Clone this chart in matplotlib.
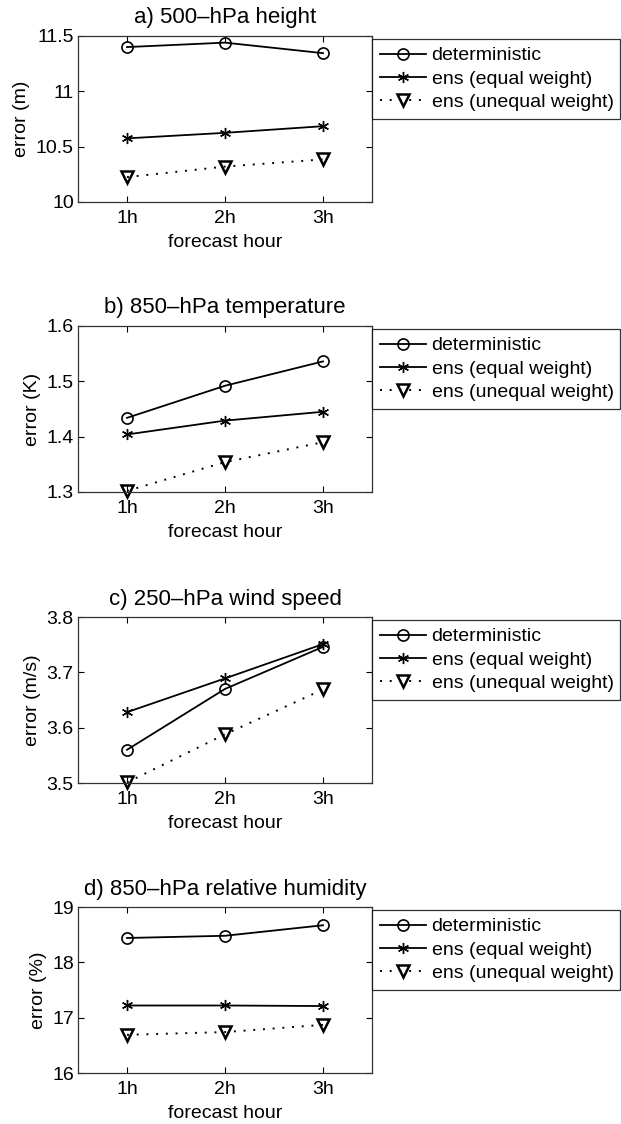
import matplotlib
matplotlib.use("Agg")
import matplotlib.pyplot as plt
from matplotlib.ticker import FormatStrFormatter

plt.rcParams['font.family'] = ['Liberation Sans', 'DejaVu Sans']

# horas de previsao
horas = [1, 2, 3]
rotulos_horas = ['1h', '2h', '3h']
legendas = ['deterministic', 'ens (equal weight)', 'ens (unequal weight)']

# a) 500-hPa height
det_a = [11.40, 11.44, 11.345]
eq_a = [10.575, 10.625, 10.685]
uneq_a = [10.225, 10.32, 10.385]

# b) 850-hPa temperature
det_b = [1.434, 1.492, 1.536]
eq_b = [1.404, 1.429, 1.445]
uneq_b = [1.302, 1.354, 1.390]

# c) 250-hPa wind speed
det_c = [3.560, 3.670, 3.746]
eq_c = [3.628, 3.689, 3.751]
uneq_c = [3.501, 3.588, 3.669]

# d) 850-hPa relative humidity
det_d = [18.44, 18.48, 18.67]
eq_d = [17.22, 17.22, 17.21]
uneq_d = [16.69, 16.74, 16.87]

titulos = ['a) 500\u2013hPa height', 'b) 850\u2013hPa temperature',
           'c) 250\u2013hPa wind speed', 'd) 850\u2013hPa relative humidity']
ylabels = ['error (m)', 'error (K)', 'error (m/s)', 'error (%)']
ylims = [(10, 11.5), (1.3, 1.6), (3.5, 3.8), (16, 19)]
yticks = [[10, 10.5, 11, 11.5], [1.3, 1.4, 1.5, 1.6], [3.5, 3.6, 3.7, 3.8], [16, 17, 18, 19]]

dados = [(det_a, eq_a, uneq_a), (det_b, eq_b, uneq_b),
         (det_c, eq_c, uneq_c), (det_d, eq_d, uneq_d)]

W, H = 621, 1124
fig = plt.figure(figsize=(W / 100, H / 100), dpi=100)

topos = [36, 326, 617, 907]   # topo de cada eixo em pixels
esq, larg, alt = 78, 294, 166
asterisco = (6, 2, 0)

for i in range(4):
    det, eq, uneq = dados[i]
    ax = fig.add_axes([esq / W, 1 - (topos[i] + alt) / H, larg / W, alt / H])

    ax.plot(horas, det, color='k', lw=1.3, marker='o', ms=8, mfc='none',
            mec='k', mew=1.2, clip_on=False, label=legendas[0])
    ax.plot(horas, eq, color='k', lw=1.3, marker=asterisco, ms=8,
            mec='k', mew=1.0, clip_on=False, label=legendas[1])
    ax.plot(horas, uneq, color='k', lw=1.4, ls=(0, (1, 4)), marker='v', ms=9,
            mfc='none', mec='k', mew=1.8, clip_on=False, label=legendas[2])

    ax.set_xlim(0.5, 3.5)
    ax.set_ylim(*ylims[i])
    ax.set_xticks(horas)
    ax.set_xticklabels(rotulos_horas)
    ax.set_yticks(yticks[i])
    ax.yaxis.set_major_formatter(FormatStrFormatter('%g'))
    ax.tick_params(direction='in', top=True, right=True, length=4, width=0.8,
                   labelsize=14, pad=6)
    ax.tick_params(axis='y', pad=3)
    for s in ax.spines.values():
        s.set_linewidth(0.9)
        s.set_color('#333333')

    ax.set_title(titulos[i], fontsize=16, pad=9)
    ax.set_xlabel('forecast hour', fontsize=14, labelpad=5)
    ax.set_ylabel(ylabels[i], fontsize=14, labelpad=4)

    topo_leg = 1 - (topos[i] + 3) / H
    leg = ax.legend(loc='upper left', bbox_to_anchor=(372 / W, topo_leg, 248 / W, 0),
                    bbox_transform=fig.transFigure, mode='expand', fontsize=14,
                    frameon=True, fancybox=False, borderpad=0.4, labelspacing=0.3,
                    handlelength=2.4, handletextpad=0.26, numpoints=1, borderaxespad=0)
    leg.get_frame().set_edgecolor('k')
    leg.get_frame().set_linewidth(0.9)

fig.savefig('out.png', dpi=100)
